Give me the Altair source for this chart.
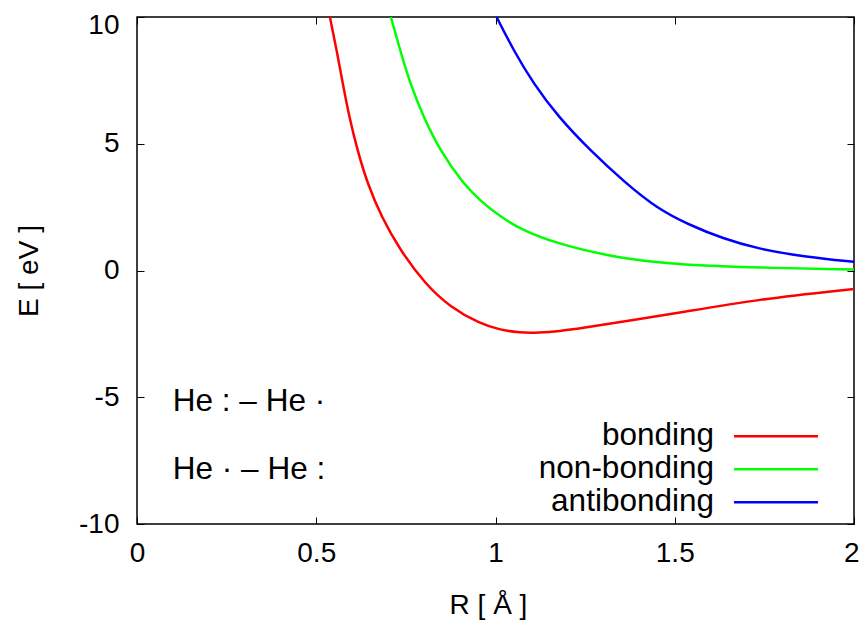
import altair as alt
import pandas as pd

FONT = "Liberation Sans"
FS = 28        # axis text
FS_BIG = 31.5  # legend and annotation text

# ---- data ----
series_names = ["bonding", "non-bonding", "antibonding"]
series_colors = ["#ff0000", "#00ff00", "#0000ff"]

bonding_R = [0.538, 0.557, 0.574, 0.592, 0.615, 0.643, 0.682, 0.734, 0.803, 0.873,
             0.957, 1.010, 1.068, 1.120, 1.180, 1.236, 1.375, 1.515, 1.729, 2.000]
bonding_E = [10.0, 8.69, 7.37, 6.06, 4.74, 3.42, 2.11, 0.80, -0.52, -1.44,
             -2.10, -2.33, -2.46, -2.46, -2.39, -2.28, -1.98, -1.66, -1.14, -0.73]

nonbonding_R = [0.708, 0.734, 0.762, 0.799, 0.845, 0.910, 0.960, 1.013, 1.068, 1.170, 1.329,
                1.450, 1.515, 1.729, 2.000]
nonbonding_E = [10.0, 8.69, 7.37, 6.06, 4.74, 3.42, 2.72, 2.13, 1.64, 1.06, 0.53,
                0.32, 0.24, 0.11, 0.04]

antibonding_R = [1.003, 1.050, 1.106, 1.175, 1.264, 1.357, 1.450, 1.543, 1.635, 1.729,
                 1.868, 2.000]
antibonding_E = [10.0, 8.69, 7.37, 6.06, 4.74, 3.52, 2.45, 1.78, 1.26, 0.86,
                 0.53, 0.34]

x_ticks = [0, 0.5, 1, 1.5, 2]
y_ticks = [-10, -5, 0, 5, 10]

ann_text = ["He : \u2013 He \u00b7", "He \u00b7 \u2013 He :"]
ann_R = [0.100, 0.100]
ann_E = [-5.18, -7.87]

# ---- tables ----
rows = []
for name, rs, es in zip(series_names,
                        [bonding_R, nonbonding_R, antibonding_R],
                        [bonding_E, nonbonding_E, antibonding_E]):
    for r, e in zip(rs, es):
        rows.append({"R": r, "E": e, "series": name})
df = pd.DataFrame(rows)
ann = pd.DataFrame({"R": ann_R, "E": ann_E, "text": ann_text})

xs = alt.Scale(domain=[0, 2], nice=False, zero=False)
ys = alt.Scale(domain=[-10, 10], nice=False, zero=False)

common = dict(offset=-7, tickSize=7, tickColor="black", tickWidth=1, domain=False,
              grid=False, labelFlush=False, labelOverlap=False,
              labelFont=FONT, labelFontSize=FS, labelColor="black",
              titleFont=FONT, titleFontSize=FS, titleFontWeight="normal", titleColor="black")

bottom_axis = alt.Axis(
    orient="bottom", values=x_ticks, labelExpr="'' + datum.value", labelPadding=15,
    labelAlign={"condition": {"test": "datum.value == 2", "value": "right"}, "value": "center"},
    labelOffset={"condition": {"test": "datum.value == 2", "value": 5}, "value": 0},
    title="R [ \u00c5 ]", titleX=351, titleY=96,
    titleBaseline="alphabetic", titleAlign="center", titleAngle=0, **common)
left_axis = alt.Axis(
    orient="left", values=y_ticks, labelExpr="'' + datum.value", labelPadding=18,
    labelBaseline={"condition": {"test": "datum.value == 10", "value": "alphabetic"},
                   "value": "middle"},
    labelOffset={"condition": {"test": "datum.value == 10", "value": 16.5}, "value": 0},
    title="E [ eV ]", titleX=-107, titleY=253.5,
    titleBaseline="alphabetic", titleAlign="center", titleAngle=270, **common)
top_axis = alt.Axis(orient="top", values=x_ticks, offset=-7, tickSize=7, tickColor="black",
                    tickWidth=1, domain=False, grid=False, labels=False, title=None)
right_axis = alt.Axis(orient="right", values=y_ticks, offset=-7, tickSize=7, tickColor="black",
                      tickWidth=1, domain=False, grid=False, labels=False, title=None)

legend = alt.Legend(orient="none", legendX=623.25, legendY=403.5, title=None,
                    symbolType="M-4,0H4", symbolSize=441, symbolStrokeWidth=2.5,
                    labelFont=FONT, labelFontSize=FS_BIG, labelColor="black",
                    labelAlign="right", labelOffset={"expr": "-77.75"}, labelLimit=0,
                    rowPadding=0, padding=0, offset=0)

lines = alt.Chart(df).mark_line(strokeWidth=2.5, clip=True, interpolate="basis").encode(
    x=alt.X("R:Q", scale=xs, axis=bottom_axis),
    y=alt.Y("E:Q", scale=ys, axis=left_axis),
    color=alt.Color("series:N", scale=alt.Scale(domain=series_names, range=series_colors),
                    legend=legend),
)

labels = alt.Chart(ann).mark_text(align="left", baseline="middle", font=FONT, fontSize=FS_BIG,
                                  color="black").encode(
    x=alt.X("R:Q", scale=xs, axis=bottom_axis),
    y=alt.Y("E:Q", scale=ys, axis=left_axis),
    text="text:N",
)

inner = alt.layer(lines, labels)

mirror = alt.Chart(df).mark_point(opacity=0).encode(
    x=alt.X("R:Q", scale=xs, axis=top_axis),
    y=alt.Y("E:Q", scale=ys, axis=right_axis),
)

chart = alt.layer(inner, mirror).resolve_scale(x="independent", y="independent").properties(
    width=717, height=507,
    autosize=alt.AutoSizeParams(type="none"),
    padding={"left": 129, "top": 9, "right": 6, "bottom": 96},
    background="white",
).configure_view(stroke="black", strokeWidth=1.5)

chart.save("out.html", embed_options={"renderer": "svg", "actions": False})
